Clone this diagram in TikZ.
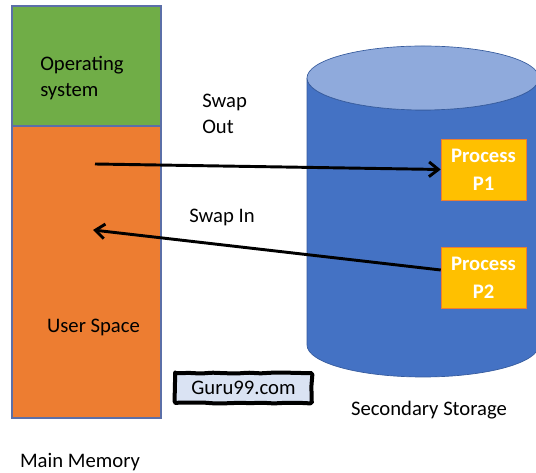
\documentclass[tikz,border=0pt]{standalone}
\usepackage{fontspec}
\setmainfont{Carlito}
\usepackage{tikz}
\usetikzlibrary{arrows.meta, positioning, decorations.pathmorphing, backgrounds}
\definecolor{osgreen}{HTML}{70AD47}
\definecolor{userorange}{HTML}{ED7D31}
\definecolor{diskblue}{HTML}{4472C4}
\definecolor{disktop}{HTML}{8FAADC}
\definecolor{procgold}{HTML}{FFC000}
\definecolor{guruback}{HTML}{DAE3F3}
\definecolor{memedge}{HTML}{5B6FA8}

\begin{document}
\begin{tikzpicture}[
        x=0.75pt, y=-0.75pt,
        every node/.style={font=\fontsize{15.5}{19.5}\selectfont},
        memblock/.style={draw=memedge, line width=0.8pt, rectangle, minimum width=149*0.75pt, inner sep=0pt},
        process/.style={draw=userorange, fill=procgold, rectangle, minimum width=85*0.75pt, minimum height=61*0.75pt,
                        inner sep=0pt, align=center, text=white, font=\fontsize{15.5}{21}\selectfont\bfseries},
        swap/.style={line width=2.2pt, -{Straight Barb[length=7pt, width=11pt, line width=2.2pt]}},
        tag/.style={align=left, inner sep=0pt}
    ]
    \useasboundingbox (0,0) rectangle (536,473);

    % main memory
    \node[memblock, fill=osgreen, minimum height=120*0.75pt]    (os)   at (86.5,66)  {};
    \node[memblock, fill=userorange, minimum height=292*0.75pt] (user) at (86.5,272) {};
    \node[tag, anchor=west] (oslabel)   at (40,78)   {Operating\\system};
    \node[tag]              (userlabel) at (93.5,327) {User Space};
    \node[tag]              (memlabel)  at (80,462)  {Main Memory};

    % secondary storage
    \filldraw[fill=diskblue, draw=diskblue!80!black, line width=0.5pt]
        (307,78) -- (307,345) arc[start angle=180, end angle=0, x radius=116, y radius=32]
        -- (539,78) arc[start angle=0, end angle=180, x radius=116, y radius=32] -- cycle;
    \filldraw[fill=disktop, draw=diskblue!80!black, line width=0.5pt] (423,78) ellipse[x radius=116, y radius=32];
    \node[tag] (disklabel) at (429,410) {Secondary Storage};

    \node[process] (p1) at (483.5,169.5) {Process\\P1};
    \node[process] (p2) at (483.5,278)   {Process\\P2};

    % swapping
    \coordinate (outstart) at (95,164);
    \coordinate (inend)    at (93,230);
    \draw[swap] (outstart) -- (p1.west);
    \draw[swap] ([yshift=6pt]p2.west) -- (inend);
    \node[tag, anchor=west] (outlabel) at (202,114) {Swap\\Out};
    \node[tag]              (inlabel)  at (222,217) {Swap In};

    \node[minimum width=136*0.75pt, minimum height=29*0.75pt, inner sep=0pt] (guru) at (243.5,388) {Guru99.com};
    \begin{scope}[on background layer]
        \fill[guruback] (guru.north west) rectangle (guru.south east);
        \draw[line width=3pt, line join=round, line cap=round,
              decoration={random steps, segment length=9pt, amplitude=0.5pt}, decorate, rounded corners=1pt]
            (guru.north west) -- (guru.north east) -- (guru.south east) -- (guru.south west) -- cycle;
    \end{scope}
\end{tikzpicture}
\end{document}
